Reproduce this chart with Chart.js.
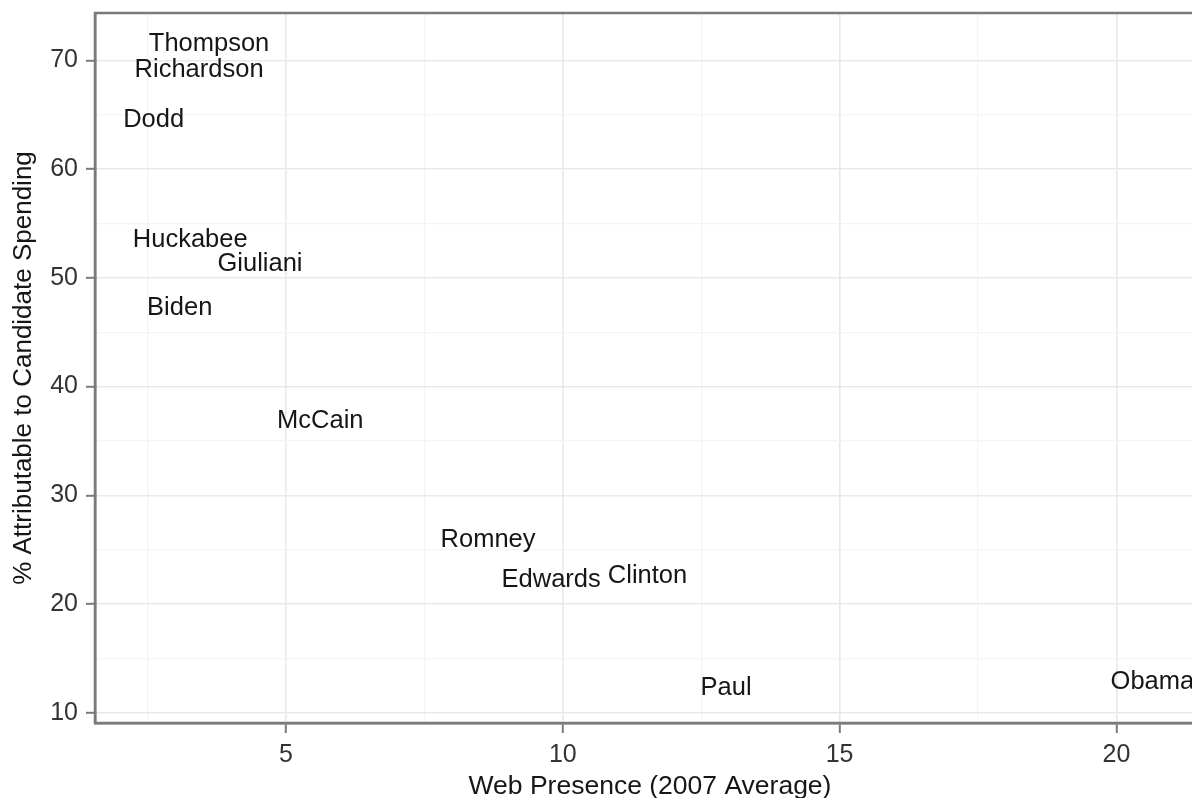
<!DOCTYPE html>
<html>
<head>
<meta charset="utf-8">
<script src="https://cdn.jsdelivr.net/npm/chart.js@4.4.0/dist/chart.umd.min.js"></script>
<style>
  html, body { margin: 0; padding: 0; background: #fff; overflow: hidden; }
  #wrap { width: 1215px; height: 810px; }
</style>
</head>
<body>
<div id="wrap"><canvas id="myChart" width="1215" height="810"></canvas></div>
<script>
// candidates and their values
const candidates = ['Thompson', 'Richardson', 'Dodd', 'Huckabee', 'Giuliani', 'Biden',
  'McCain', 'Romney', 'Edwards', 'Clinton', 'Paul', 'Obama'];
const webPresence = [3.61, 3.43, 2.61, 3.27, 4.53, 3.08, 5.62, 8.65, 9.79, 11.53, 12.95, 20.65];
const pctCandidate = [71.5, 69.1, 64.5, 53.5, 51.3, 47.2, 36.8, 25.9, 22.2, 22.6, 12.3, 12.8];

const xMajor = [5, 10, 15, 20];
const xMinor = [2.5, 7.5, 12.5, 17.5];
const yMajor = [10, 20, 30, 40, 50, 60, 70];
const yMinor = [15, 25, 35, 45, 55, 65];

const frameColor = '#7a7a7a';

const textLabels = {
  id: 'textLabels',
  afterDatasetsDraw(chart) {
    const {ctx, chartArea} = chart;
    const meta = chart.getDatasetMeta(0);
    ctx.save();
    ctx.beginPath();
    ctx.rect(chartArea.left, chartArea.top, chartArea.right - chartArea.left, chartArea.bottom - chartArea.top);
    ctx.clip();
    ctx.font = '25.5px "Liberation Sans", Arial, sans-serif';
    ctx.fillStyle = '#161616';
    ctx.textAlign = 'center';
    ctx.textBaseline = 'middle';
    meta.data.forEach((pt, i) => {
      ctx.fillText(candidates[i], pt.x, pt.y);
    });
    ctx.restore();
  }
};

const frame = {
  id: 'frame',
  afterDraw(chart) {
    const {ctx, chartArea} = chart;
    ctx.save();
    ctx.strokeStyle = frameColor;
    ctx.lineWidth = 2.5;
    ctx.strokeRect(chartArea.left, chartArea.top, chartArea.right - chartArea.left, chartArea.bottom - chartArea.top);
    ctx.restore();
  }
};

function setTicks(major, minor) {
  return function (scale) {
    scale.ticks = major.concat(minor).sort((a, b) => a - b).map(v => ({ value: v }));
  };
}

const isMajor = (list) => (c) => c.tick && list.includes(c.tick.value);

const ctx = document.getElementById('myChart').getContext('2d');
const myChart = new Chart(ctx, {
  type: 'scatter',
  data: {
    datasets: [{
      data: webPresence.map((x, i) => ({ x: x, y: pctCandidate[i] })),
      pointRadius: 0,
      pointHoverRadius: 0
    }]
  },
  options: {
    responsive: false,
    animation: false,
    events: [],
    layout: { padding: { top: 13, right: 10, left: 0, bottom: 0 } },
    plugins: { legend: { display: false }, tooltip: { enabled: false } },
    scales: {
      x: {
        type: 'linear',
        min: 1.55,
        max: 21.6,
        afterBuildTicks: setTicks(xMajor, xMinor),
        afterFit(scale) { scale.height = 87; scale.paddingLeft = 0; scale.paddingRight = 0; },
        grid: {
          color: (c) => isMajor(xMajor)(c) ? '#e9e9e9' : '#f4f4f4',
          lineWidth: (c) => isMajor(xMajor)(c) ? 1.6 : 1.2,
          tickColor: (c) => isMajor(xMajor)(c) ? frameColor : 'rgba(0,0,0,0)',
          tickLength: 10,
          tickWidth: 2
        },
        border: { color: frameColor, width: 2.5 },
        ticks: {
          autoSkip: false,
          maxRotation: 0,
          padding: 7,
          color: '#333333',
          font: { family: '"Liberation Sans", Arial, sans-serif', size: 25 },
          callback: (v) => xMajor.includes(v) ? String(v) : ''
        },
        title: {
          display: true,
          text: 'Web Presence (2007 Average)',
          color: '#161616',
          font: { family: '"Liberation Sans", Arial, sans-serif', size: 26.5, lineHeight: 1 },
          padding: { top: 0, bottom: 10 }
        }
      },
      y: {
        type: 'linear',
        min: 9.07,
        max: 74.35,
        afterBuildTicks: setTicks(yMajor, yMinor),
        afterFit(scale) { scale.width = 95; scale.paddingTop = 0; scale.paddingBottom = 0; },
        grid: {
          color: (c) => isMajor(yMajor)(c) ? '#e9e9e9' : '#f4f4f4',
          lineWidth: (c) => isMajor(yMajor)(c) ? 1.6 : 1.2,
          tickColor: (c) => isMajor(yMajor)(c) ? frameColor : 'rgba(0,0,0,0)',
          tickLength: 9,
          tickWidth: 2
        },
        border: { color: frameColor, width: 2.5 },
        ticks: {
          autoSkip: false,
          padding: 8,
          color: '#333333',
          font: { family: '"Liberation Sans", Arial, sans-serif', size: 25 },
          callback: (v) => yMajor.includes(v) ? String(v) : ''
        },
        title: {
          display: true,
          text: '% Attributable to Candidate Spending',
          color: '#161616',
          font: { family: '"Liberation Sans", Arial, sans-serif', size: 26, lineHeight: 1 },
          padding: { top: 11, bottom: 0 }
        }
      }
    }
  },
  plugins: [textLabels, frame]
});
</script>
</body>
</html>
